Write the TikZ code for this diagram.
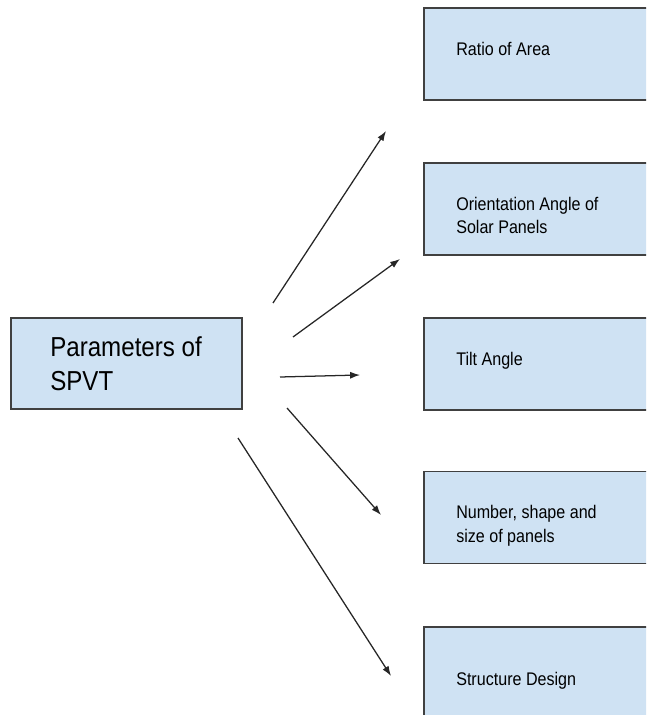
\documentclass[tikz,border=0pt]{standalone}
\usepackage{fontspec}
\setmainfont{Liberation Sans}[FakeStretch=0.88]
\usepackage{tikz}
\usetikzlibrary{arrows.meta}
\definecolor{boxblue}{HTML}{CFE2F3}
\definecolor{boxline}{HTML}{404040}
\tikzstyle{nodoparam} = [rectangle,draw=boxline,line width=1.3pt,fill=boxblue,minimum width=5.775cm,minimum height=2.275cm]
\tikzstyle{nodofattore} = [rectangle,draw=boxline,line width=1.3pt,fill=boxblue,minimum width=7.2cm,minimum height=2.3cm]
\tikzstyle{testogrande} = [anchor=base west,inner sep=0pt,align=left,font=\fontsize{19.5}{24}\selectfont]
\tikzstyle{testo} = [anchor=base west,inner sep=0pt,align=left,font=\fontsize{13}{17}\selectfont]
\tikzstyle{arrow} = [line width=0.9pt,draw=black!85,-{Latex[length=7pt,width=5pt]}]

\begin{document}
\begin{tikzpicture}[x=0.025cm,y=-0.025cm]
\useasboundingbox (0,0) rectangle (646,715);
\clip (0,0) rectangle (646,715);

% 1 px = 0.025cm

\node (param)  [nodoparam] at (126.5,363.5) {};
\node (area)   [nodofattore] at (568,54)  {};
\node (orient) [nodofattore] at (568,209) {};
\node (tilt)   [nodofattore] at (568,364) {};
\node (number) [nodofattore] at (568,517.5) {};
\node (struct) [nodofattore] at (568,673) {};

% texts, on the baseline of their last line
\node (paramt)  [testogrande] at (50,390) {Parameters of\\SPVT};
\node (areat)   [testo] at (456,56)  {Ratio of Area};
\node (orientt) [testo] at (456,234) {Orientation Angle of\\Solar Panels};
\node (tiltt)   [testo] at (456,365) {Tilt Angle};
\node (numbert) [testo] at (456,542) {Number, shape and\\size of panels};
\node (structt) [testo] at (456,685) {Structure Design};

% arrows do not touch the boxes
\coordinate (a1s) at (273,303);
\coordinate (a1e) at (386,131);
\coordinate (a2s) at (293,337);
\coordinate (a2e) at (400,259);
\coordinate (a3s) at (280,377);
\coordinate (a3e) at (360,375);
\coordinate (a4s) at (287,408);
\coordinate (a4e) at (381,515);
\coordinate (a5s) at (238,438);
\coordinate (a5e) at (391,676);

\draw[arrow] (a1s) -- (a1e);
\draw[arrow] (a2s) -- (a2e);
\draw[arrow] (a3s) -- (a3e);
\draw[arrow] (a4s) -- (a4e);
\draw[arrow] (a5s) -- (a5e);

\end{tikzpicture}
\end{document}
